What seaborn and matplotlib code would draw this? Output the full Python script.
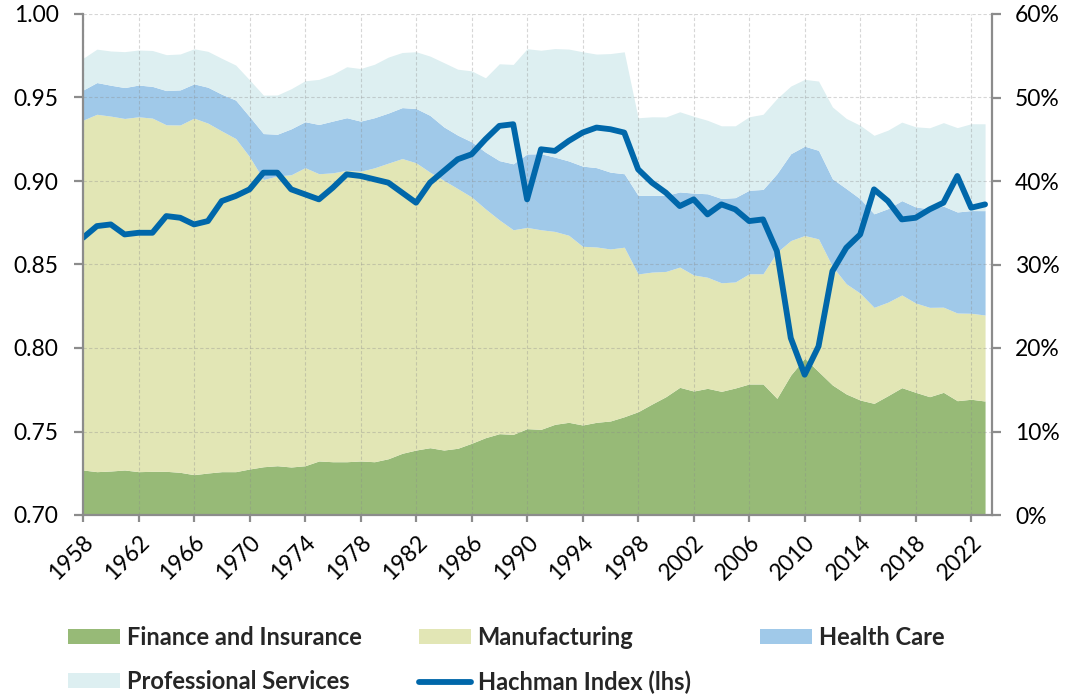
import matplotlib
matplotlib.use("Agg")
import matplotlib.pyplot as plt
from matplotlib.patches import Patch
from matplotlib.lines import Line2D
from matplotlib.ticker import FuncFormatter, MultipleLocator
import seaborn as sns
import pandas as pd

years = list(range(1958, 2024))

finance = [5.39, 5.19, 5.27, 5.39, 5.19, 5.23, 5.23, 5.11, 4.83, 5.03, 5.19, 5.19,
           5.51, 5.78, 5.90, 5.75, 5.90, 6.47, 6.38, 6.38, 6.47, 6.38,
           6.74, 7.39, 7.78, 8.06, 7.78, 7.99, 8.59, 9.26, 9.74, 9.66,
           10.34, 10.26, 10.86, 11.10, 10.78, 11.10, 11.26, 11.77, 12.37, 13.29,
           14.17, 15.29, 14.85, 15.17, 14.81, 15.21, 15.69, 15.69, 13.97, 16.77,
           18.77, 17.17, 15.57, 14.49, 13.77, 13.37, 14.29, 15.25, 14.69, 14.17,
           14.69, 13.69, 13.86, 13.65]

manufacturing = [41.9, 42.8, 42.5, 42.1, 42.5, 42.3, 41.5, 41.6, 42.7, 41.9, 40.8, 39.9,
                 37.4, 34.4, 34.7, 35.0, 35.7, 34.4, 34.6, 34.9, 34.7, 35.2,
                 35.4, 35.3, 34.4, 33.0, 32.3, 31.1, 29.5, 27.4, 25.6, 24.5,
                 24.1, 23.9, 23.1, 22.4, 21.4, 21.0, 20.6, 20.3, 16.5, 15.8,
                 15.0, 14.4, 13.9, 13.3, 13.0, 12.7, 13.2, 13.2, 17.5, 16.1,
                 14.7, 15.9, 14.2, 13.2, 12.8, 11.5, 11.2, 11.1, 10.7, 10.7,
                 10.2, 10.5, 10.3, 10.3]

health_care = [3.6, 3.8, 3.7, 3.7, 3.8, 3.8, 4.1, 4.2, 4.1, 4.3, 4.4, 4.6,
               4.8, 5.5, 5.0, 5.5, 5.5, 5.9, 6.2, 6.3, 6.0, 6.0,
               6.0, 6.1, 6.5, 6.8, 6.4, 6.4, 6.6, 6.8, 7.1, 7.9,
               8.8, 9.1, 8.9, 8.9, 9.6, 9.5, 9.2, 8.8, 9.4, 9.2,
               9.1, 9.0, 9.8, 10.0, 10.1, 10.1, 10.0, 10.1, 9.4, 10.4,
               10.7, 10.6, 10.5, 11.4, 11.3, 11.2, 11.2, 11.3, 11.5, 11.8,
               12.1, 12.1, 12.3, 12.5]

professional = [3.8, 4.0, 4.1, 4.3, 4.2, 4.3, 4.3, 4.3, 4.2, 4.3, 4.3, 4.2,
                4.4, 4.6, 4.7, 4.8, 4.9, 5.4, 5.6, 6.1, 6.3, 6.4,
                6.7, 6.6, 6.8, 7.1, 7.7, 7.9, 8.5, 8.9, 11.6, 11.9,
                12.6, 12.4, 13.0, 13.4, 13.7, 13.6, 14.2, 14.6, 9.3, 9.4,
                9.4, 9.6, 9.2, 8.8, 8.7, 8.6, 8.8, 9.0, 9.0, 8.1,
                8.0, 8.3, 8.6, 8.4, 8.8, 9.4, 9.4, 9.4, 9.6, 9.7,
                10.0, 10.1, 10.4, 10.4]

hachman = [0.866, 0.873, 0.874, 0.868, 0.869, 0.869, 0.879, 0.878, 0.874, 0.876, 0.888, 0.891,
           0.895, 0.905, 0.905, 0.895, 0.892, 0.889, 0.896, 0.904, 0.903, 0.901,
           0.899, 0.893, 0.887, 0.899, 0.906, 0.913, 0.916, 0.925, 0.933, 0.934,
           0.889, 0.919, 0.918, 0.924, 0.929, 0.932, 0.931, 0.929, 0.907, 0.899,
           0.893, 0.885, 0.889, 0.880, 0.886, 0.883, 0.876, 0.877, 0.858, 0.806,
           0.784, 0.801, 0.846, 0.860, 0.868, 0.895, 0.888, 0.877, 0.878, 0.883,
           0.887, 0.903, 0.884, 0.886]

labels = ["Finance and Insurance", "Manufacturing", "Health Care",
          "Professional Services", "Hachman Index (lhs)"]
colors = ["#97BA77", "#E2E6B5", "#A0C9E9", "#DDEFF1"]
line_color = "#0067AA"
tick_years = list(range(1958, 2023, 4))

sns.set_theme(style="white")
plt.rcParams["font.family"] = ["Lato", "DejaVu Sans"]

df = pd.DataFrame({"year": years, "hachman": hachman})

fig = plt.figure(figsize=(10.69, 6.96), dpi=100)
ax = fig.add_axes([83 / 1069, 1 - 515 / 696, (992 - 83) / 1069, (515 - 14) / 696])
ax2 = ax.twinx()

# stacked areas on the right (percent) axis
ax2.stackplot(years, finance, manufacturing, health_care, professional,
              colors=colors, linewidth=0)
ax2.set_ylim(0, 60)
ax2.yaxis.set_major_locator(MultipleLocator(10))
ax2.yaxis.set_major_formatter(FuncFormatter(lambda v, p: f"{v:.0f}%"))

# Hachman index on the left axis, drawn above the areas
ax.set_zorder(ax2.get_zorder() + 1)
ax.patch.set_visible(False)
sns.lineplot(data=df, x="year", y="hachman", ax=ax, color=line_color,
             linewidth=4.2, legend=False)
ax.set_ylim(0.70, 1.00)
ax.yaxis.set_major_locator(MultipleLocator(0.05))
ax.yaxis.set_major_formatter(FuncFormatter(lambda v, p: f"{v:.2f}"))
ax.set_xlim(1958, 2023.5)
ax.set_xticks(tick_years)
ax.set_xticklabels([str(y) for y in tick_years], rotation=45, ha="right",
                   rotation_mode="anchor")
ax.set_xlabel("")
ax.set_ylabel("")

grid_kw = dict(color="#8a8a8a", alpha=0.35, linewidth=0.8, linestyle=(0, (3, 2)))
ax.grid(True, axis="both", **grid_kw)
ax2.grid(False)

spine_color = "#8c8c8c"
for a in (ax, ax2):
    for s in a.spines.values():
        s.set_visible(False)
ax.spines["left"].set_visible(True)
ax.spines["bottom"].set_visible(True)
ax2.spines["right"].set_visible(True)
for s in (ax.spines["left"], ax.spines["bottom"], ax2.spines["right"]):
    s.set_color(spine_color)
    s.set_linewidth(1.6)

tick_fs = 16.5
ax.tick_params(axis="y", left=True, direction="out", length=6.5, width=1.6,
               color=spine_color, pad=11, labelsize=tick_fs, labelcolor="black")
ax.tick_params(axis="x", bottom=True, direction="out", length=5, width=1.6,
               color=spine_color, pad=7, labelsize=tick_fs, labelcolor="black")
ax2.tick_params(axis="y", right=True, direction="out", length=6.5, width=1.6,
                color=spine_color, pad=10, labelsize=tick_fs, labelcolor="black")

legend_prop = {"family": ["Lato", "DejaVu Sans"], "weight": "bold", "size": 17}
leg_kw = dict(loc="upper left", frameon=False, prop=legend_prop,
              handlelength=2.2, handleheight=0.6, handletextpad=0.28,
              borderaxespad=0, borderpad=0, labelspacing=0.9)

col1 = ([Patch(facecolor=colors[0], edgecolor="none"),
         Patch(facecolor=colors[3], edgecolor="none")], [labels[0], labels[3]], 68)
col2 = ([Patch(facecolor=colors[1], edgecolor="none"),
         Line2D([0], [0], color=line_color, linewidth=4.2)], [labels[1], labels[4]], 419)
col3 = ([Patch(facecolor=colors[2], edgecolor="none")], [labels[2]], 760)
for hs, ls, xpix in (col1, col2, col3):
    fig.legend(hs, ls, bbox_to_anchor=(xpix / 1069, 1 - 626 / 696), **leg_kw)

fig.savefig("out.png", dpi=100)
